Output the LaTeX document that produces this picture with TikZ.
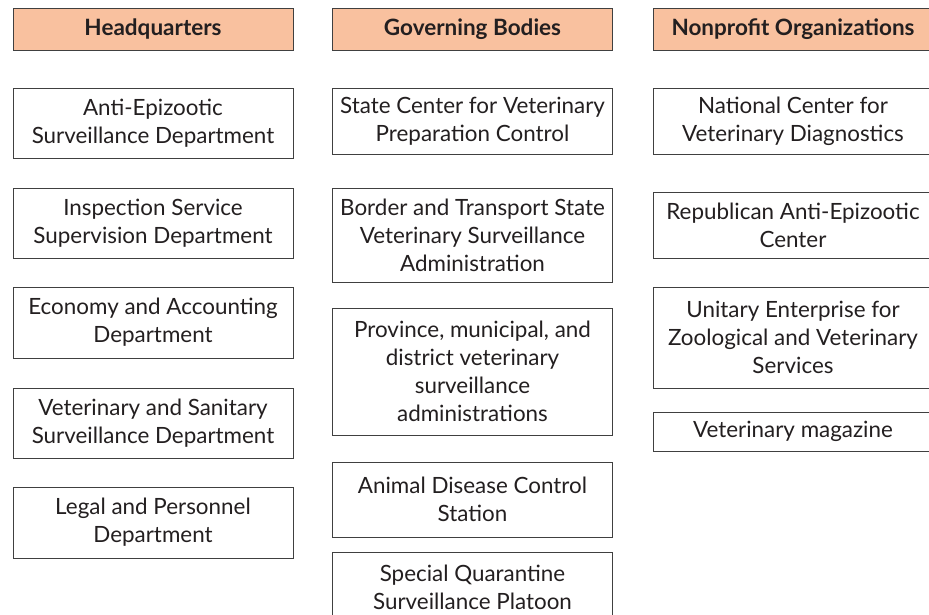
\documentclass[tikz,border=0pt]{standalone}
\usepackage{fontspec}
\setmainfont{Lato}
\usepackage{xcolor}
\definecolor{headfill}{HTML}{F9C19F}
\definecolor{edgegray}{HTML}{404040}
\definecolor{inktext}{HTML}{231F20}
\usetikzlibrary{positioning}

\begin{document}
\begin{tikzpicture}[
  x=1pt, y=-1pt,
  head/.style={draw=edgegray, line width=0.9pt, fill=headfill, align=center, minimum width=280pt, minimum height=42pt, inner sep=0pt, text=inktext, font=\fontsize{22.5}{28}\selectfont\bfseries},
  unit/.style={draw=edgegray, line width=0.9pt, fill=white, align=center, minimum width=280pt, inner sep=0pt, text=inktext, font=\fontsize{22.4}{28}\selectfont}
]
\useasboundingbox (0,0) rectangle (929,615);
\clip (0,0) rectangle (929,615);
% column heads
\node[head] (hq) at (153,29) {Headquarters};
\node[head] (gov) at (472.5,29) {Governing Bodies};
\node[head] (npo) at (793,29) {Nonprofit Organizations};
% headquarters
\node[unit, minimum height=70pt] (antiepi) at (153,123) {Anti-Epizootic\\Surveillance Department};
\node[unit, minimum height=70pt] (inspect) at (153,223) {Inspection Service\\Supervision Department};
\node[unit, minimum height=71pt] (economy) at (153,322.5) {Economy and Accounting\\Department};
\node[unit, minimum height=70pt] (sanitary) at (153,423) {Veterinary and Sanitary\\Surveillance Department};
\node[unit, minimum height=71pt] (legal) at (153,522.5) {Legal and Personnel\\Department};
% governing bodies
\node[unit, minimum height=66pt] (prepctrl) at (472.5,121) {State Center for Veterinary\\Preparation Control};
\node[unit, minimum height=94pt] (border) at (472.5,235) {Border and Transport State\\Veterinary Surveillance\\Administration};
\node[unit, minimum height=127pt] (province) at (472.5,371.5) {Province, municipal, and\\district veterinary\\surveillance\\administrations};
\node[unit, minimum height=75pt] (disease) at (472.5,499.5) {Animal Disease Control\\Station};
\node[unit, minimum height=70pt] (platoon) at (472.5,587) {Special Quarantine\\Surveillance Platoon};
% nonprofit organizations
\node[unit, minimum height=66pt] (diagn) at (793,121) {National Center for\\Veterinary Diagnostics};
\node[unit, minimum height=66pt] (republ) at (793,225) {Republican Anti-Epizootic\\Center};
\node[unit, minimum height=101pt] (unitary) at (793,337.5) {Unitary Enterprise for\\Zoological and Veterinary\\Services};
\node[unit, minimum height=39pt] (magazine) at (793,431.5) {Veterinary magazine};
\end{tikzpicture}
\end{document}
